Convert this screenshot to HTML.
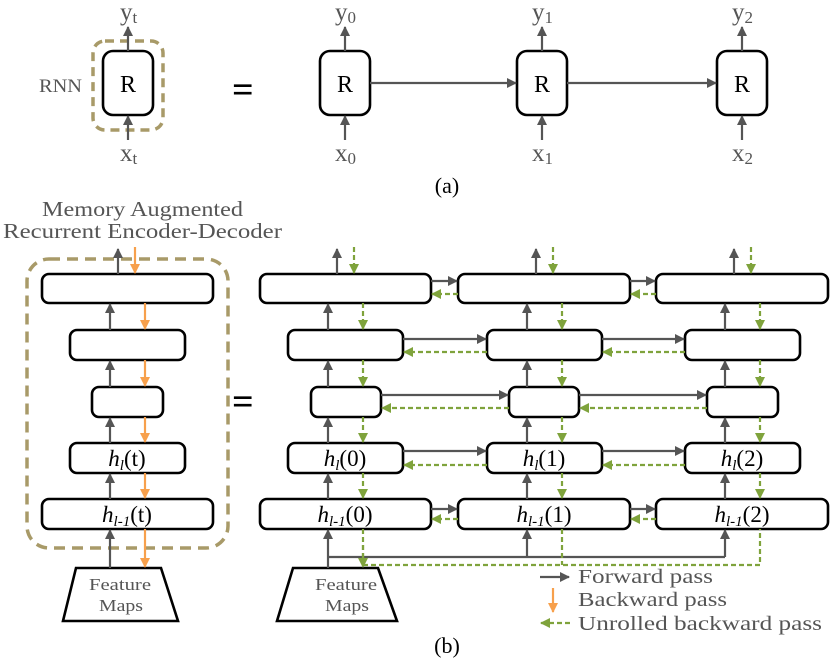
<!DOCTYPE html>
<html><head><meta charset="utf-8"><style>
html,body{margin:0;padding:0;background:#fff;}
svg{display:block;}
text{font-family:"Liberation Serif",serif;}
.s{font-family:"DejaVu Serif","Liberation Serif",serif;fill:#555;}
</style></head><body>
<svg width="831" height="661" viewBox="0 0 831 661" xmlns="http://www.w3.org/2000/svg">
<defs>
<marker id="g" markerWidth="10" markerHeight="10" refX="9" refY="5" orient="auto" markerUnits="userSpaceOnUse"><path d="M0,0 L10,5 L0,10 z" fill="#555"/></marker>
<marker id="o" markerWidth="10" markerHeight="10" refX="9" refY="5" orient="auto" markerUnits="userSpaceOnUse"><path d="M0,0 L10,5 L0,10 z" fill="#f7a04c"/></marker>
<marker id="v" markerWidth="10" markerHeight="10" refX="9" refY="5" orient="auto" markerUnits="userSpaceOnUse"><path d="M0,0 L10,5 L0,10 z" fill="#7fa33c"/></marker>
</defs>
<g fill="none" stroke-width="2.2">
<!-- (a) -->
<rect x="93" y="41" width="70" height="89" rx="12" stroke="#a89a68" stroke-width="3.5" stroke-dasharray="9,6"/>
<g stroke="#000" stroke-width="2.6">
<rect x="103" y="51" width="50" height="64" rx="10"/>
<rect x="320" y="51" width="50" height="64" rx="10"/>
<rect x="517" y="51" width="50" height="64" rx="10"/>
<rect x="717" y="51" width="50" height="64" rx="10"/>
</g>
<g stroke="#555" marker-end="url(#g)">
<line x1="128" y1="51" x2="128" y2="27"/><line x1="128" y1="140" x2="128" y2="116"/>
<line x1="345" y1="51" x2="345" y2="27"/><line x1="345" y1="140" x2="345" y2="116"/>
<line x1="542" y1="51" x2="542" y2="27"/><line x1="542" y1="140" x2="542" y2="116"/>
<line x1="742" y1="51" x2="742" y2="27"/><line x1="742" y1="140" x2="742" y2="116"/>
<line x1="370" y1="83" x2="516" y2="83"/><line x1="567" y1="83" x2="716" y2="83"/>
</g>
<!-- (b) left -->
<rect x="27" y="259" width="201" height="289" rx="22" stroke="#a89a68" stroke-width="3.5" stroke-dasharray="11,7"/>
<g stroke="#000" stroke-width="2.6">
<rect x="42" y="274" width="171" height="29" rx="7"/>
<rect x="70" y="330" width="115" height="30" rx="7"/>
<rect x="92" y="387" width="71" height="30" rx="7"/>
<rect x="70" y="443" width="115" height="30" rx="7"/>
<rect x="42" y="499" width="171" height="30" rx="7"/>
<path d="M76,568 L161,568 L178,621 L63,621 Z"/>
</g>
<g stroke="#555" marker-end="url(#g)">
<line x1="118" y1="274" x2="118" y2="249"/>
<line x1="110" y1="330" x2="110" y2="304"/>
<line x1="110" y1="387" x2="110" y2="361"/>
<line x1="110" y1="443" x2="110" y2="418"/>
<line x1="110" y1="499" x2="110" y2="474"/>
<line x1="110" y1="568" x2="110" y2="530"/>
</g>
<g stroke="#f7a04c" marker-end="url(#o)">
<line x1="135" y1="247" x2="135" y2="273"/>
<line x1="145" y1="303" x2="145" y2="329"/>
<line x1="145" y1="360" x2="145" y2="386"/>
<line x1="145" y1="417" x2="145" y2="442"/>
<line x1="145" y1="473" x2="145" y2="498"/>
<line x1="145" y1="529" x2="145" y2="567"/>
</g>
<!-- (b) right -->
<g stroke="#000" stroke-width="2.6">
<rect x="260" y="274" width="171" height="29" rx="7"/><rect x="458" y="274" width="172" height="29" rx="7"/><rect x="656" y="274" width="172" height="29" rx="7"/>
<rect x="288" y="330" width="115" height="30" rx="7"/><rect x="487" y="330" width="115" height="30" rx="7"/><rect x="685" y="330" width="115" height="30" rx="7"/>
<rect x="311" y="387" width="70" height="30" rx="7"/><rect x="509" y="387" width="70" height="30" rx="7"/><rect x="707" y="387" width="71" height="30" rx="7"/>
<rect x="288" y="443" width="115" height="30" rx="7"/><rect x="487" y="443" width="115" height="30" rx="7"/><rect x="685" y="443" width="115" height="30" rx="7"/>
<rect x="260" y="499" width="171" height="30" rx="7"/><rect x="458" y="499" width="172" height="30" rx="7"/><rect x="656" y="499" width="172" height="30" rx="7"/>
<path d="M293,568 L378,568 L397,621 L277,621 Z"/>
</g>
<g stroke="#555" marker-end="url(#g)">
<line x1="337" y1="274" x2="337" y2="249"/><line x1="536" y1="274" x2="536" y2="249"/><line x1="734" y1="274" x2="734" y2="249"/>
<line x1="328" y1="330" x2="328" y2="304"/><line x1="527" y1="330" x2="527" y2="304"/><line x1="725" y1="330" x2="725" y2="304"/>
<line x1="328" y1="387" x2="328" y2="361"/><line x1="527" y1="387" x2="527" y2="361"/><line x1="725" y1="387" x2="725" y2="361"/>
<line x1="328" y1="443" x2="328" y2="418"/><line x1="527" y1="443" x2="527" y2="418"/><line x1="725" y1="443" x2="725" y2="418"/>
<line x1="328" y1="499" x2="328" y2="474"/><line x1="527" y1="499" x2="527" y2="474"/><line x1="725" y1="499" x2="725" y2="474"/>
<line x1="328" y1="568" x2="328" y2="530"/>
<line x1="527" y1="557" x2="527" y2="530"/><line x1="725" y1="557" x2="725" y2="530"/>
<line x1="431" y1="281" x2="457" y2="281"/><line x1="630" y1="281" x2="655" y2="281"/>
<line x1="403" y1="339" x2="486" y2="339"/><line x1="602" y1="339" x2="684" y2="339"/>
<line x1="381" y1="395" x2="508" y2="395"/><line x1="579" y1="395" x2="706" y2="395"/>
<line x1="403" y1="451" x2="486" y2="451"/><line x1="602" y1="451" x2="684" y2="451"/>
<line x1="431" y1="509" x2="457" y2="509"/><line x1="630" y1="509" x2="655" y2="509"/>
</g>
<line x1="328" y1="557" x2="725" y2="557" stroke="#555"/>
<g stroke="#7fa33c" stroke-dasharray="5,3" marker-end="url(#v)">
<line x1="354" y1="247" x2="354" y2="273"/><line x1="553" y1="247" x2="553" y2="273"/><line x1="751" y1="247" x2="751" y2="273"/>
<line x1="363" y1="303" x2="363" y2="329"/><line x1="562" y1="303" x2="562" y2="329"/><line x1="760" y1="303" x2="760" y2="329"/>
<line x1="363" y1="360" x2="363" y2="386"/><line x1="562" y1="360" x2="562" y2="386"/><line x1="760" y1="360" x2="760" y2="386"/>
<line x1="363" y1="417" x2="363" y2="442"/><line x1="562" y1="417" x2="562" y2="442"/><line x1="760" y1="417" x2="760" y2="442"/>
<line x1="363" y1="473" x2="363" y2="498"/><line x1="562" y1="473" x2="562" y2="498"/><line x1="760" y1="473" x2="760" y2="498"/>
<line x1="458" y1="294" x2="432" y2="294"/><line x1="656" y1="294" x2="631" y2="294"/>
<line x1="487" y1="352" x2="404" y2="352"/><line x1="685" y1="352" x2="603" y2="352"/>
<line x1="509" y1="408" x2="382" y2="408"/><line x1="707" y1="408" x2="580" y2="408"/>
<line x1="487" y1="465" x2="404" y2="465"/><line x1="685" y1="465" x2="603" y2="465"/>
<line x1="458" y1="519" x2="432" y2="519"/><line x1="656" y1="519" x2="631" y2="519"/>
<line x1="363" y1="545" x2="363" y2="567"/>
</g>
<path d="M363,529 L363,565 M363,565 L760,565 L760,529 M562,529 L562,565" stroke="#7fa33c" stroke-dasharray="5,3"/>
<!-- legend -->
<line x1="540" y1="577" x2="569" y2="577" stroke="#555" marker-end="url(#g)"/>
<line x1="553" y1="588" x2="553" y2="612" stroke="#f7a04c" marker-end="url(#o)"/>
<line x1="570" y1="623" x2="541" y2="623" stroke="#7fa33c" stroke-dasharray="5,3" marker-end="url(#v)"/>
</g>
<g font-size="24" fill="#000" text-anchor="middle">
<text x="128" y="92">R</text><text x="345" y="92">R</text><text x="542" y="92">R</text><text x="742" y="92">R</text>
</g>
<g font-size="25" fill="#555">
<text x="120" y="20">y<tspan font-size="17" dy="3">t</tspan></text>
<text x="120" y="161">x<tspan font-size="17" dy="3">t</tspan></text>
<text x="335" y="20">y<tspan font-size="17" dy="3">0</tspan></text>
<text x="335" y="161">x<tspan font-size="17" dy="3">0</tspan></text>
<text x="532" y="20">y<tspan font-size="17" dy="3">1</tspan></text>
<text x="532" y="161">x<tspan font-size="17" dy="3">1</tspan></text>
<text x="732" y="20">y<tspan font-size="17" dy="3">2</tspan></text>
<text x="732" y="161">x<tspan font-size="17" dy="3">2</tspan></text>
<text x="39" y="92" font-size="19" textLength="43" lengthAdjust="spacingAndGlyphs">RNN</text>
</g>
<text x="232" y="102" font-size="38" font-family="Liberation Sans,sans-serif" font-weight="bold">=</text>
<text x="232" y="414" font-size="38" font-family="Liberation Sans,sans-serif" font-weight="bold">=</text>
<g font-size="22" fill="#000" text-anchor="middle">
<text x="447" y="193">(a)</text>
<text x="447" y="653">(b)</text>
</g>
<g class="s" font-size="21">
<text x="42" y="216" textLength="201" lengthAdjust="spacingAndGlyphs">Memory Augmented</text>
<text x="3" y="238" textLength="279" lengthAdjust="spacingAndGlyphs">Recurrent Encoder-Decoder</text>
</g>
<g class="s" font-size="17">
<text x="89" y="590" textLength="62" lengthAdjust="spacingAndGlyphs">Feature</text><text x="99" y="611" textLength="44" lengthAdjust="spacingAndGlyphs">Maps</text>
<text x="315" y="590" textLength="62" lengthAdjust="spacingAndGlyphs">Feature</text><text x="325" y="611" textLength="44" lengthAdjust="spacingAndGlyphs">Maps</text>
</g>
<g class="s" font-size="20">
<text x="578" y="583" textLength="135" lengthAdjust="spacingAndGlyphs">Forward pass</text>
<text x="578" y="606" textLength="149" lengthAdjust="spacingAndGlyphs">Backward pass</text>
<text x="578" y="630" textLength="244" lengthAdjust="spacingAndGlyphs">Unrolled backward pass</text>
</g>
<g font-size="23" fill="#000" text-anchor="middle">
<text x="127" y="466"><tspan font-style="italic">h</tspan><tspan font-style="italic" font-size="15" dy="4">l</tspan><tspan dy="-4">(t)</tspan></text>
<text x="127" y="522"><tspan font-style="italic">h</tspan><tspan font-style="italic" font-size="15" dy="4">l-1</tspan><tspan dy="-4">(t)</tspan></text>
<text x="345" y="466"><tspan font-style="italic">h</tspan><tspan font-style="italic" font-size="15" dy="4">l</tspan><tspan dy="-4">(0)</tspan></text>
<text x="544" y="466"><tspan font-style="italic">h</tspan><tspan font-style="italic" font-size="15" dy="4">l</tspan><tspan dy="-4">(1)</tspan></text>
<text x="742" y="466"><tspan font-style="italic">h</tspan><tspan font-style="italic" font-size="15" dy="4">l</tspan><tspan dy="-4">(2)</tspan></text>
<text x="345" y="522"><tspan font-style="italic">h</tspan><tspan font-style="italic" font-size="15" dy="4">l-1</tspan><tspan dy="-4">(0)</tspan></text>
<text x="544" y="522"><tspan font-style="italic">h</tspan><tspan font-style="italic" font-size="15" dy="4">l-1</tspan><tspan dy="-4">(1)</tspan></text>
<text x="742" y="522"><tspan font-style="italic">h</tspan><tspan font-style="italic" font-size="15" dy="4">l-1</tspan><tspan dy="-4">(2)</tspan></text>
</g>
</svg>
</body></html>
